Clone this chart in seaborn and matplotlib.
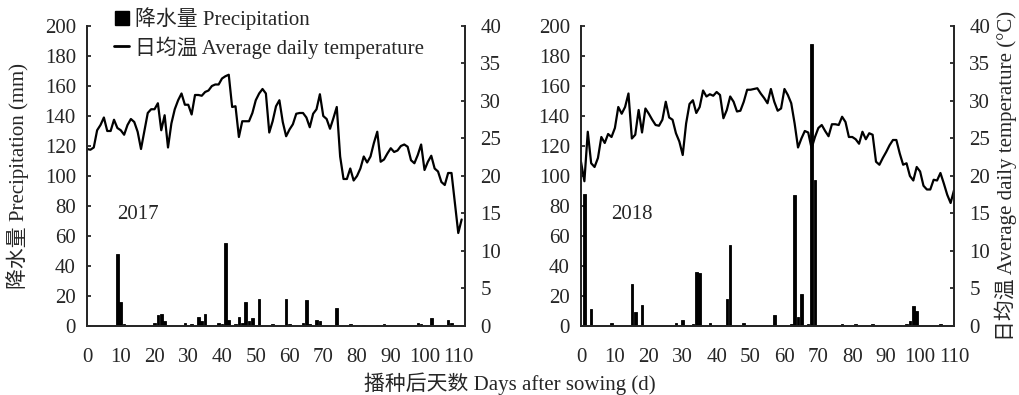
# Daily precipitation and mean temperature after sowing, 2017 vs 2018

import matplotlib
matplotlib.use("Agg")
import numpy as np
import matplotlib.pyplot as plt
from matplotlib.lines import Line2D
import seaborn as sns

# -------------------------
# Data
# -------------------------
# daily mean temperature (°C), one value per day from day 0
temp_2017 = [
    23.6, 23.5, 23.8, 26.1, 26.8, 27.8, 26.0, 26.0, 27.5, 26.4,
    26.1, 25.5, 26.8, 27.6, 27.2, 25.9, 23.6, 26.0, 28.4, 28.9,
    28.9, 29.7, 26.1, 28.1, 23.8, 27.0, 28.9, 30.1, 31.0, 29.5,
    29.5, 28.2, 30.8, 30.8, 30.7, 31.2, 31.4, 32.0, 32.2, 32.2,
    33.0, 33.3, 33.5, 29.2, 29.3, 25.2, 27.3, 27.3, 27.3, 28.4,
    30.1, 31.0, 31.6, 31.0, 25.8, 27.3, 29.3, 30.1,
    27.2, 25.3, 26.2, 26.9, 28.3, 28.4, 28.4, 27.8, 26.5, 28.3,
    28.9, 30.9, 28.0, 27.6, 26.3, 27.7, 29.2, 22.6, 19.6, 19.6,
    21.0, 19.4, 20.0, 21.0, 22.6, 21.8, 22.6, 24.4, 25.9, 21.9,
    22.2, 23.0, 23.7, 23.2, 23.4, 24.0, 24.2, 23.9, 22.1, 21.7,
    22.8, 24.2, 20.8, 21.9, 22.7, 21.0, 20.6, 19.2, 18.8, 20.4,
    20.4, 16.4, 12.4, 14.2,
]
temp_2018 = [
    21.9, 19.3, 25.9, 21.7, 21.2, 22.4, 25.2, 24.4, 25.6, 25.2,
    26.4, 29.2, 28.3, 29.2, 31.0, 25.0, 25.5, 28.8, 25.8, 29.0,
    28.3, 27.5, 26.8, 26.7, 27.5, 29.9, 27.8, 27.5, 25.7, 24.6,
    22.8, 27.0, 29.6, 30.1, 28.4, 29.2, 31.4, 30.6, 30.9, 30.7,
    31.2, 30.8, 27.7, 28.8, 30.6, 29.9, 28.6, 28.7, 29.9, 31.5,
    31.5, 31.6, 31.7, 31.0, 30.4, 29.7,
    31.6, 29.9, 28.7, 29.0, 31.6, 30.8, 29.7, 27.0, 23.8, 25.0,
    26.0, 25.8, 23.7, 25.2, 26.4, 26.8, 26.0, 25.3, 26.9, 26.9,
    26.8, 27.9, 27.2, 25.2, 25.2, 24.9, 24.3, 25.9, 24.9, 25.7,
    25.5, 21.9, 21.5, 22.4, 23.2, 24.1, 24.8, 24.8, 23.0, 21.5,
    21.7, 20.0, 19.4, 21.2, 20.6, 18.7, 18.2, 18.2, 19.5, 19.4,
    20.4, 19.0, 17.5, 16.4, 18.1,
]

# rainy days and precipitation (mm)
rain_days_2017 = [9, 10, 11, 20, 21, 22, 23, 29, 31, 33, 34, 35, 39, 40, 41, 42,
                  44, 45, 46, 47, 48, 49, 51, 55, 59, 60, 64, 65, 66, 68, 69, 74,
                  78, 82, 86, 88, 98, 99, 102, 107, 108]
rain_mm_2017 = [48, 16, 1, 2, 7, 8, 3, 2, 1, 6, 3, 8, 2, 1, 55, 4,
                1, 6, 2, 16, 3, 5, 18, 1.5, 18, 1, 2, 17, 1, 4, 3, 12,
                1.5, 0.5, 0.5, 1.5, 2, 1, 5, 4, 2]

rain_days_2018 = [1, 3, 9, 15, 16, 18, 28, 30, 33, 34, 35, 38, 43, 44, 48, 57,
                  62, 63, 64, 65, 67, 68, 69, 77, 81, 86, 94, 96, 97, 98, 99, 106]
rain_mm_2018 = [88, 11, 2, 28, 9, 14, 2, 4, 1, 36, 35, 2, 18, 54, 2, 7,
                1, 87, 6, 21, 1.5, 188, 97, 1, 1, 1, 0.5, 1.5, 3, 13, 10, 1]

years = ["2017", "2018"]
x_ticks = list(range(0, 111, 10))
rain_ticks = list(range(0, 201, 20))
temp_ticks = list(range(0, 41, 5))

FS = 15


# -------------------------
# One panel: bars + twin line
# -------------------------
def draw_panel(fig, rect, temp, rain_days, rain_mm, year, x_max):
    ax = fig.add_axes(rect)
    sns.barplot(x=rain_days, y=rain_mm, native_scale=True, color="black",
                saturation=1, errorbar=None, width=0.75, edgecolor="black",
                linewidth=0.6, ax=ax)

    ax2 = ax.twinx()
    sns.lineplot(x=np.arange(len(temp)), y=temp, color="black", lw=1.6, ax=ax2)

    ax.set_xlim(0, x_max)
    ax.set_ylim(0, 200)
    ax.set_yticks(rain_ticks)
    ax.set_xticks(x_ticks)
    ax2.set_ylim(0, 40)
    ax2.set_yticks(temp_ticks)

    for a in (ax, ax2):
        a.spines["top"].set_visible(False)
        for s in ("left", "right", "bottom"):
            a.spines[s].set_linewidth(1.3)
    ax.tick_params(axis="y", direction="in", length=3, width=1.3, pad=8, labelsize=FS)
    ax.tick_params(axis="x", length=0, pad=16, labelsize=FS)
    ax2.tick_params(axis="y", direction="in", length=3, width=1.3, pad=11, labelsize=FS)
    ax.set_xlabel("")
    ax.set_ylabel("")
    ax2.set_ylabel("")

    ax.text(15, 74, year, ha="center", va="center", fontsize=FS)
    return ax, ax2


# -------------------------
# Main
# -------------------------
if __name__ == "__main__":
    sns.set_theme(style="ticks")
    plt.rcParams["font.family"] = ["Liberation Serif", "Noto Sans CJK SC"]

    fig = plt.figure(figsize=(10.2, 3.95), dpi=100)
    fig.patch.set_facecolor("white")

    bottom, height = 0.1747, 0.7595
    ax_l, ax_l2 = draw_panel(fig, [0.0853, bottom, 0.3706, height],
                             temp_2017, rain_days_2017, rain_mm_2017, years[0], 112)
    ax_r, ax_r2 = draw_panel(fig, [0.5696, bottom, 0.3657, height],
                             temp_2018, rain_days_2018, rain_mm_2018, years[1], 110)

    ax_l.set_ylabel("降水量 Precipitation (mm)", fontsize=FS)
    ax_l.yaxis.set_label_coords(-0.153, 0.5)
    ax_r2.set_ylabel("日均温 Average daily temperature (°C)", fontsize=FS)
    ax_r2.yaxis.set_label_coords(1.108, 0.5)

    fig.text(0.5, 0.028, "播种后天数 Days after sowing (d)", ha="center", va="center",
             fontsize=FS)

    handles = [
        Line2D([], [], marker="s", color="black", linestyle="none", markersize=10),
        Line2D([], [], color="black", lw=2),
    ]
    labels = ["降水量 Precipitation", "日均温 Average daily temperature"]
    fig.legend(handles, labels, loc="upper left", bbox_to_anchor=(0.112, 0.982),
               frameon=False, fontsize=FS, handlelength=0.7, handletextpad=0.3,
               labelspacing=0.3, borderaxespad=0, borderpad=0)

    fig.savefig("out.png", dpi=100)
